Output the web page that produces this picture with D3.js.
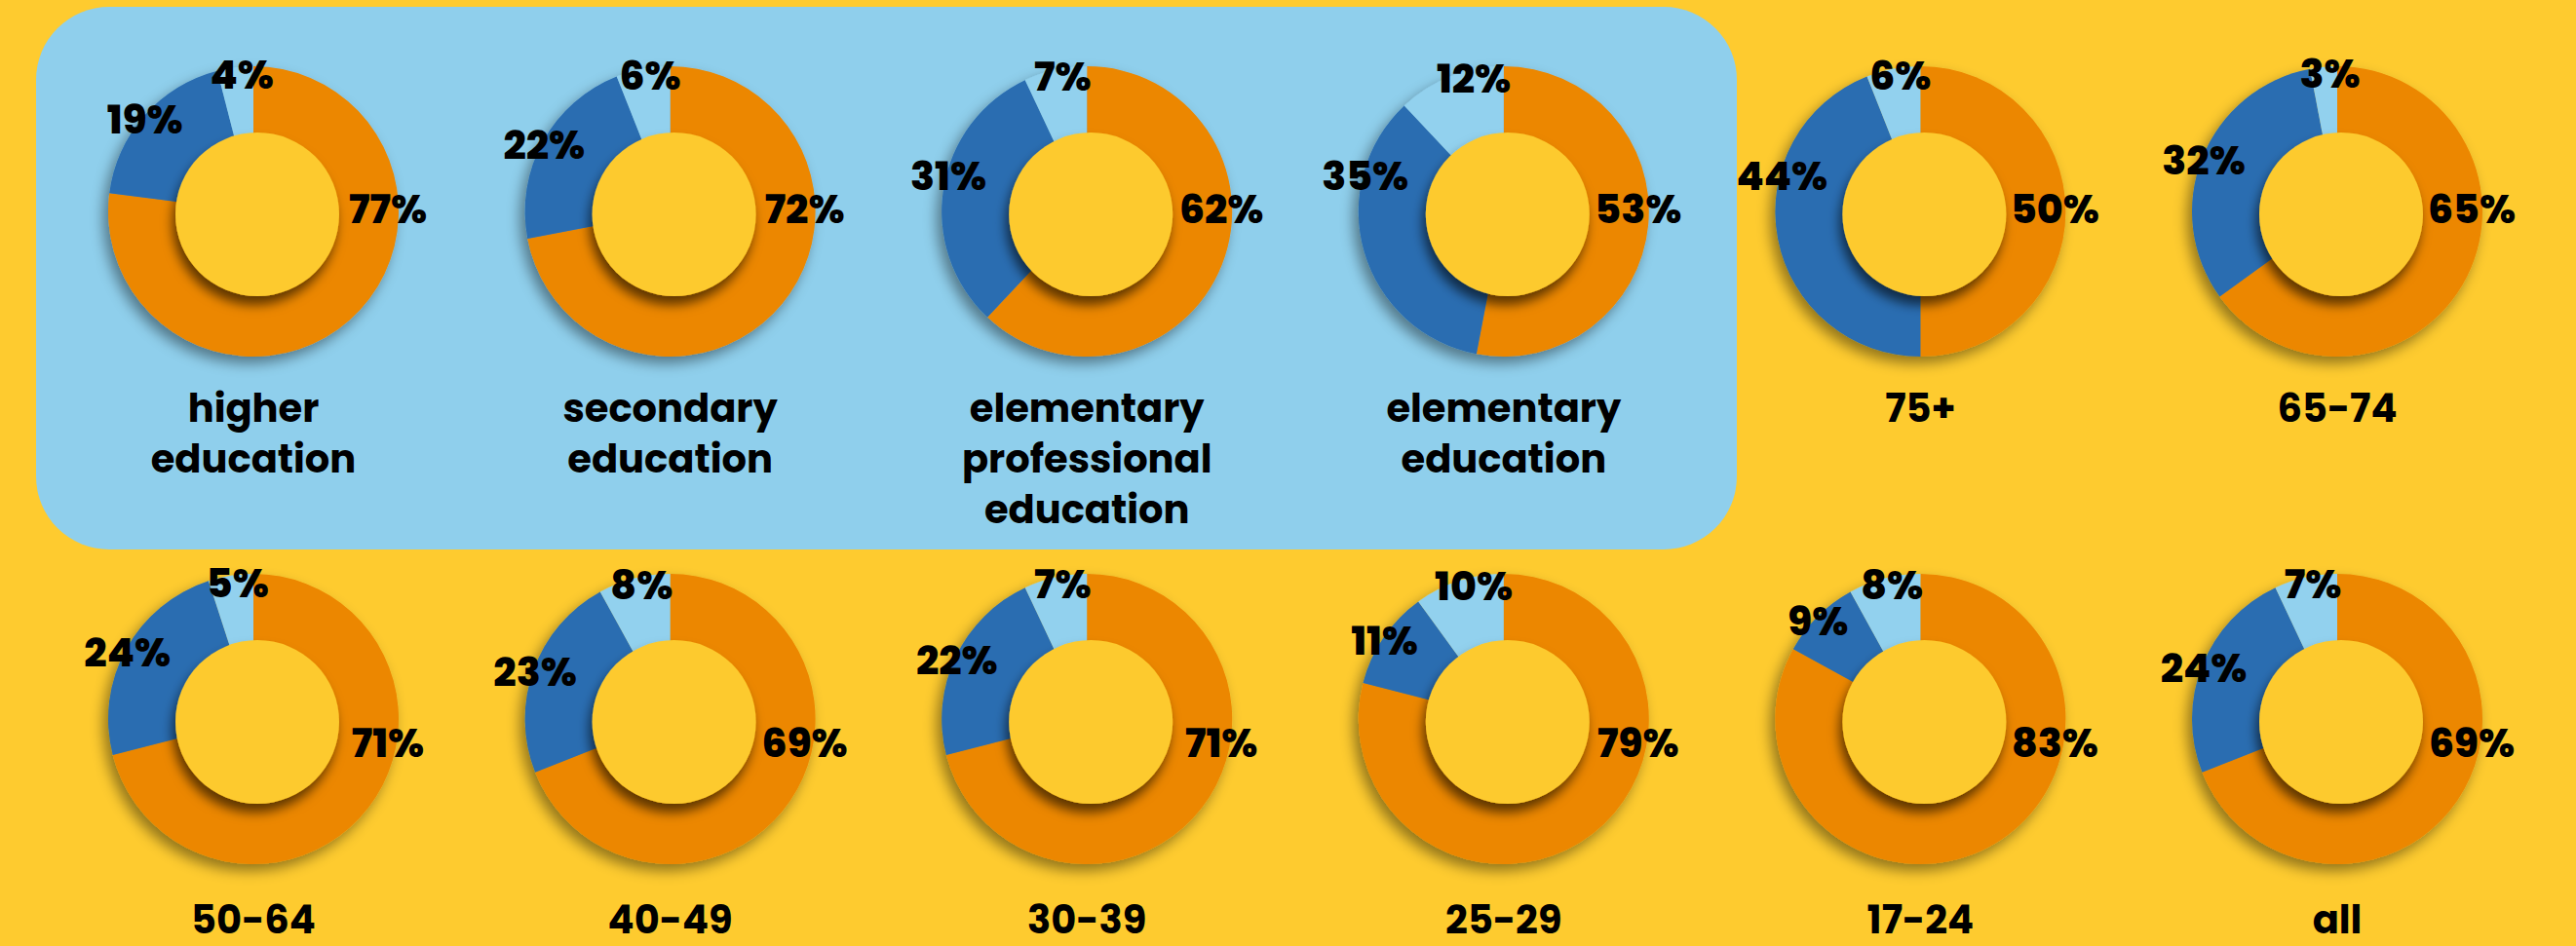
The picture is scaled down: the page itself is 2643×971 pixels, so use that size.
<!DOCTYPE html>
<html lang="en">
<meta charset="utf-8">
<script src="https://d3js.org/d3.v7.min.js"></script>
<style>
  body { margin: 0; background: #fecb2f; }
  text { font-family: "Poppins", "Inter", "Open Sans", sans-serif; fill: #000; }
  .pct { font-size: 41px; font-weight: 800; }
  .cat { font-size: 40px; font-weight: 700; }
</style>
<svg id="base" width="2643" height="971"></svg>

<script>
    // data
    var categories = ["higher education", "secondary education", "elementary professional education",
        "elementary education", "75+", "65-74", "50-64", "40-49", "30-39", "25-29", "17-24", "all"];
    var orange = [77, 72, 62, 53, 50, 65, 71, 69, 71, 79, 83, 69];
    var darkBlue = [19, 22, 31, 35, 44, 32, 24, 23, 22, 11, 9, 24];
    var lightBlue = [4, 6, 7, 12, 6, 3, 5, 8, 7, 10, 8, 7];

    var colors = ["#ec8705", "#2a6db1", "#92d1ee"];

    var width = 2643, height = 971;
    var outerR = 149, innerR = 84;

    var svg = d3.select("#base");

    var defs = svg.append("defs");
    defs.append("filter").attr("id", "ringShadow")
        .attr("x", "-30%").attr("y", "-30%").attr("width", "160%").attr("height", "160%")
        .append("feDropShadow")
        .attr("dx", -5).attr("dy", 7).attr("stdDeviation", 7)
        .attr("flood-color", "#000").attr("flood-opacity", 0.42);
    defs.append("filter").attr("id", "holeShadow")
        .attr("x", "-30%").attr("y", "-30%").attr("width", "160%").attr("height", "160%")
        .append("feDropShadow")
        .attr("dx", -3).attr("dy", 9).attr("stdDeviation", 6)
        .attr("flood-color", "#000").attr("flood-opacity", 0.6);

    svg.append("rect").attr("width", width).attr("height", height).attr("fill", "#fecb2f");

    // panel behind the education group
    svg.append("rect")
        .attr("x", 37).attr("y", 7)
        .attr("width", 1745).attr("height", 557)
        .attr("rx", 75).attr("ry", 75)
        .attr("fill", "#8fcfec");

    var x = d3.scalePoint().domain(d3.range(6)).range([260, 2398]);
    var y = d3.scalePoint().domain([0, 1]).range([217, 738]);
    var pctDy = [-3, 24];
    var catDy = [216, 220];

    var pie = d3.pie().sort(null).value(function (d) { return d; });
    var arc = d3.arc().innerRadius(0).outerRadius(outerR);

    function polar(a, r) { return [Math.sin(a) * r, -Math.cos(a) * r]; }

    categories.forEach(function (cat, i) {
        var col = i % 6, row = Math.floor(i / 6);
        var cx = x(col), cy = y(row);
        var g = svg.append("g").attr("transform", "translate(" + cx + "," + cy + ")");
        var slices = pie([orange[i], darkBlue[i], lightBlue[i]]);

        g.append("g").attr("filter", "url(#ringShadow)")
            .selectAll("path")
            .data(slices)
            .enter()
            .append("path")
            .attr("d", arc)
            .attr("fill", function (d, k) { return colors[k]; });

        g.append("circle")
            .attr("cx", 4).attr("cy", 3).attr("r", innerR)
            .attr("fill", "#fdca2d")
            .attr("filter", "url(#holeShadow)");

        // orange value on the right side
        g.append("text").attr("class", "pct")
            .attr("text-anchor", "middle").attr("dy", "0.36em")
            .attr("x", 138).attr("y", pctDy[row])
            .text(orange[i] + "%");

        // dark blue value, upper left
        var b = slices[1], bm = Math.max((b.startAngle + b.endAngle) / 2, 285 * Math.PI / 180);
        var bp = polar(bm, 143);
        g.append("text").attr("class", "pct")
            .attr("text-anchor", "middle").attr("dy", "0.36em")
            .attr("x", bp[0] - 4).attr("y", bp[1])
            .text(darkBlue[i] + "%");

        // light blue value near the top
        var l = slices[2], lm = Math.max((l.startAngle + l.endAngle) / 2, 345 * Math.PI / 180);
        var lp = polar(lm, 142);
        g.append("text").attr("class", "pct")
            .attr("text-anchor", "middle").attr("dy", "0.36em")
            .attr("x", lp[0] + 6).attr("y", lp[1])
            .text(lightBlue[i] + "%");

        // category name, one word per line
        var words = cat.split(" ");
        var t = g.append("text").attr("class", "cat").attr("text-anchor", "middle");
        words.forEach(function (w, k) {
            t.append("tspan").attr("x", 0).attr("y", catDy[row] + k * 52).text(w);
        });
    });
</script>
</html>
